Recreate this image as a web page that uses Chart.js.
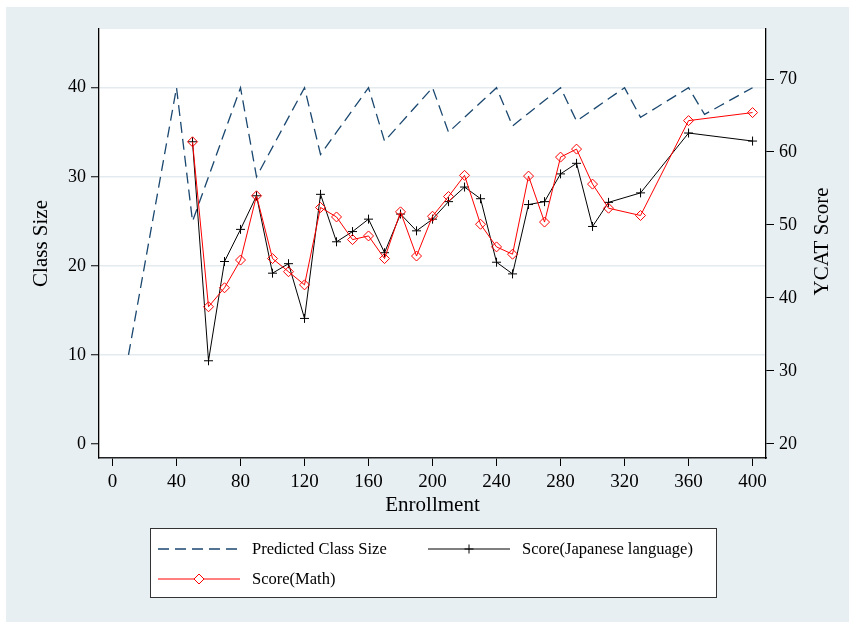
<!DOCTYPE html>
<html>
<head>
<meta charset="utf-8">
<script src="https://cdn.jsdelivr.net/npm/chart.js@4.4.1/dist/chart.umd.min.js"></script>
<style>
  html, body { margin: 0; padding: 0; background: #ffffff; }
  #wrap { width: 849px; height: 622px; position: relative; }
  canvas { display: block; }
</style>
</head>
<body>
<div id="wrap"><canvas id="chart" width="849" height="622"></canvas></div>
<script>
// Predicted class size by school enrollment
const enrollment = [10, 20, 30, 40, 50, 60, 70, 80, 90, 100, 110, 120, 130, 140, 150, 160, 170, 180, 190, 200,
  210, 220, 230, 240, 250, 260, 270, 280, 290, 300, 310, 320, 330, 340, 350, 360, 370, 380, 390, 400];
const predictedClassSize = [10, 20, 30, 40, 25, 30, 35, 40, 30, 33.33, 36.67, 40, 32.5, 35, 37.5, 40, 34, 36, 38, 40,
  35, 36.67, 38.33, 40, 35.71, 37.14, 38.57, 40, 36.25, 37.5, 38.75, 40, 36.67, 37.78, 38.89, 40, 37, 38, 39, 40];

// YCAT scores by enrollment
const scoreEnrollment = [50, 60, 70, 80, 90, 100, 110, 120, 130, 140, 150, 160, 170, 180, 190, 200,
  210, 220, 230, 240, 250, 260, 270, 280, 290, 300, 310, 330, 360, 400];
const scoreJapanese = [61.4, 31.4, 45.0, 49.4, 54.0, 43.4, 44.7, 37.2, 54.2, 47.7, 49.1, 50.8, 46.2, 51.5, 49.2, 50.8,
  53.2, 55.2, 53.6, 44.9, 43.3, 52.8, 53.2, 57.0, 58.45, 49.8, 53.1, 54.4, 62.6, 61.5];
const scoreMath = [61.4, 38.8, 41.4, 45.2, 54.0, 45.4, 43.6, 41.8, 52.4, 51.1, 48.0, 48.5, 45.4, 51.8, 45.75, 51.2,
  53.9, 56.8, 50.1, 47.0, 46.0, 56.7, 50.4, 59.3, 60.4, 55.6, 52.3, 51.3, 64.3, 65.4];

// Axis ticks
const enrollmentTicks = [0, 40, 80, 120, 160, 200, 240, 280, 320, 360, 400];
const classSizeTicks = [0, 10, 20, 30, 40];
const ycatTicks = [20, 30, 40, 50, 60, 70];

const SERIF = '"Liberation Serif", "Times New Roman", serif';
const NAVY = '#1a476f';
const BG = '#e8eff2';
const RIGHT_TITLE = 'YCAT Score';

const toPoints = (xs, ys) => xs.map((x, i) => ({ x: x, y: ys[i] }));
const fixedTicks = list => scale => { scale.ticks = list.map(v => ({ value: v })); };

// Panel background, white plot region
const backgroundPlugin = {
  id: 'panelBackground',
  beforeDraw(chart) {
    const { ctx, chartArea: a } = chart;
    ctx.save();
    ctx.fillStyle = '#ffffff';
    ctx.fillRect(0, 0, chart.width, chart.height);
    ctx.fillStyle = BG;
    ctx.fillRect(6, 7, chart.width - 6, chart.height - 7);
    ctx.fillStyle = '#ffffff';
    ctx.fillRect(a.left, a.top, a.right - a.left, a.bottom - a.top);
    ctx.restore();
  }
};

// Right axis title, reading bottom to top like the left one
const rightTitlePlugin = {
  id: 'rightTitle',
  afterDraw(chart) {
    const { ctx, chartArea: a } = chart;
    ctx.save();
    ctx.translate(822, (a.top + a.bottom) / 2 - 2);
    ctx.rotate(-Math.PI / 2);
    ctx.fillStyle = '#000000';
    ctx.font = '21px ' + SERIF;
    ctx.textAlign = 'center';
    ctx.textBaseline = 'middle';
    ctx.fillText(RIGHT_TITLE, 0, 0);
    ctx.restore();
  }
};

// Boxed two-column legend under the plot
const boxLegendPlugin = {
  id: 'boxLegend',
  afterDraw(chart) {
    const ctx = chart.ctx;
    const ds = chart.data.datasets;
    const box = { x: 150, y: 528, w: 566, h: 69 };
    ctx.save();
    ctx.fillStyle = '#ffffff';
    ctx.fillRect(box.x, box.y, box.w, box.h);
    ctx.strokeStyle = '#333333';
    ctx.lineWidth = 1;
    ctx.strokeRect(box.x + 0.5, box.y + 0.5, box.w, box.h);

    const entries = [
      { d: ds[0], x: 158, y: 549 },
      { d: ds[1], x: 428, y: 549 },
      { d: ds[2], x: 158, y: 579 }
    ];
    entries.forEach(e => {
      const x0 = e.x, x1 = e.x + 82, xm = (x0 + x1) / 2;
      ctx.beginPath();
      ctx.setLineDash(e.d.borderDash || []);
      ctx.strokeStyle = e.d.borderColor;
      ctx.lineWidth = e.d.borderWidth;
      ctx.moveTo(x0, e.y);
      ctx.lineTo(x1, e.y);
      ctx.stroke();
      ctx.setLineDash([]);
      if (e.d.pointRadius > 0) {
        ctx.fillStyle = '#ffffff';
        ctx.strokeStyle = e.d.pointBorderColor;
        ctx.lineWidth = e.d.pointBorderWidth;
        Chart.helpers.drawPoint(ctx, {
          pointStyle: e.d.pointStyle,
          radius: e.d.pointRadius,
          rotation: 0,
          borderWidth: e.d.pointBorderWidth
        }, xm, e.y);
      }
      ctx.fillStyle = '#000000';
      ctx.font = '16.5px ' + SERIF;
      ctx.textAlign = 'left';
      ctx.textBaseline = 'middle';
      ctx.fillText(e.d.label, x1 + 12, e.y + 1);
    });
    ctx.restore();
  }
};

new Chart(document.getElementById('chart'), {
  type: 'line',
  data: {
    datasets: [
      {
        label: 'Predicted Class Size',
        data: toPoints(enrollment, predictedClassSize),
        yAxisID: 'y',
        borderColor: NAVY,
        borderWidth: 1.3,
        borderDash: [11, 6],
        pointRadius: 0,
        fill: false,
        tension: 0,
        order: 3
      },
      {
        label: 'Score(Japanese language)',
        data: toPoints(scoreEnrollment, scoreJapanese),
        yAxisID: 'y2',
        borderColor: '#000000',
        borderWidth: 1,
        pointStyle: 'cross',
        pointRadius: 4.5,
        pointBorderColor: '#000000',
        pointBorderWidth: 1,
        pointBackgroundColor: 'transparent',
        fill: false,
        tension: 0,
        order: 2
      },
      {
        label: 'Score(Math)',
        data: toPoints(scoreEnrollment, scoreMath),
        yAxisID: 'y2',
        borderColor: '#ff0000',
        borderWidth: 1,
        pointStyle: 'rectRot',
        pointRadius: 5,
        pointBorderColor: '#ff0000',
        pointBorderWidth: 1,
        pointBackgroundColor: 'transparent',
        fill: false,
        tension: 0,
        order: 1
      }
    ]
  },
  options: {
    responsive: false,
    animation: false,
    devicePixelRatio: 1,
    layout: { padding: { top: 29, left: 0, right: 0, bottom: 100 } },
    plugins: {
      legend: { display: false },
      tooltip: { enabled: false }
    },
    scales: {
      x: {
        type: 'linear',
        position: 'bottom',
        min: -8.44,
        max: 408.4,
        afterBuildTicks: fixedTicks(enrollmentTicks),
        afterFit: s => { s.height = 64; },
        ticks: { color: '#000', font: { family: SERIF, size: 19 }, padding: 5, maxRotation: 0, autoSkip: false },
        grid: { drawOnChartArea: false, drawTicks: true, tickLength: 8, tickColor: '#000', tickWidth: 1 },
        border: { display: true, color: '#222', width: 1.5 },
        title: { display: true, text: 'Enrollment', color: '#000', font: { family: SERIF, size: 21 }, padding: { top: 0, bottom: 4 } }
      },
      y: {
        type: 'linear',
        position: 'left',
        min: -1.57,
        max: 46.59,
        afterBuildTicks: fixedTicks(classSizeTicks),
        afterFit: s => { s.width = 99; },
        ticks: { color: '#000', font: { family: SERIF, size: 18 }, padding: 5 },
        grid: {
          drawOnChartArea: true,
          color: c => (c.tick && c.tick.value === 0) ? 'rgba(0,0,0,0)' : '#e3ebef',
          lineWidth: 1.5,
          tickLength: 8,
          tickColor: '#000',
          tickWidth: 1
        },
        border: { display: true, color: '#000', width: 1.3 },
        title: { display: true, text: 'Class Size', color: '#000', font: { family: SERIF, size: 21 }, padding: { top: 29, bottom: 0 } }
      },
      y2: {
        type: 'linear',
        position: 'right',
        min: 18.08,
        max: 76.85,
        afterBuildTicks: fixedTicks(ycatTicks),
        afterFit: s => { s.width = 83; },
        ticks: { color: '#000', font: { family: SERIF, size: 18 }, padding: 5 },
        grid: { drawOnChartArea: false, tickLength: 8, tickColor: '#000', tickWidth: 1 },
        border: { display: true, color: '#000', width: 1.3 },
        title: { display: false }
      }
    }
  },
  plugins: [backgroundPlugin, rightTitlePlugin, boxLegendPlugin]
});
</script>
</body>
</html>
